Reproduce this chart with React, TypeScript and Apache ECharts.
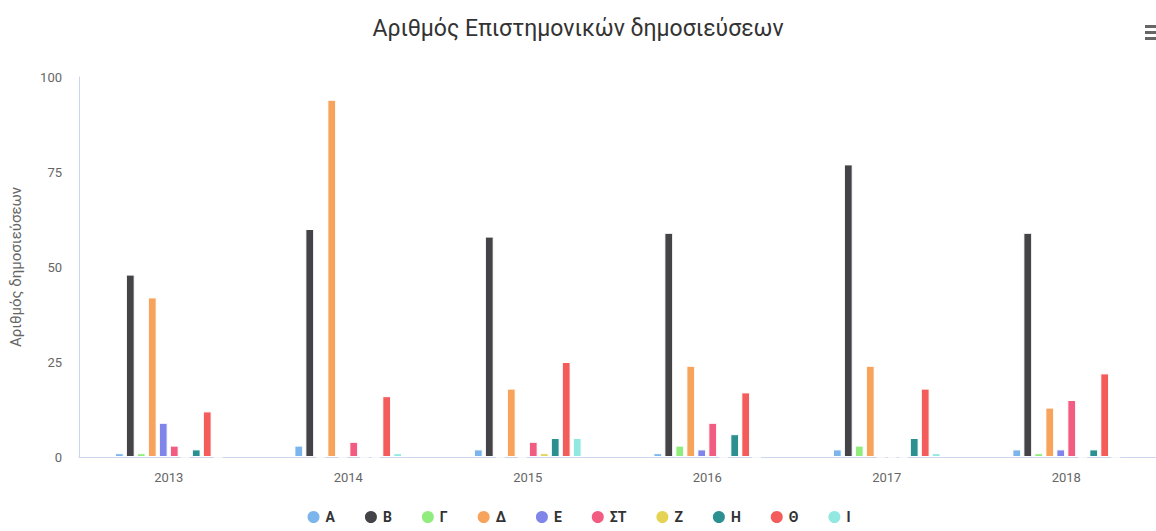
import React, { useEffect, useRef } from "react";
import * as echarts from "echarts";

const categories = ["2013", "2014", "2015", "2016", "2017", "2018"];
const seriesNames = ["Α", "Β", "Γ", "Δ", "Ε", "ΣΤ", "Ζ", "Η", "Θ", "Ι"];
const colors = ["#7cb5ec", "#434348", "#90ed7d", "#f7a35c", "#8085e9", "#f15c80", "#e4d354", "#2b908f", "#f45b5b", "#91e8e1"];

const sA = [1, 3, 2, 1, 2, 2];
const sB = [48, 60, 58, 59, 77, 59];
const sG = [1, 0, 0, 3, 3, 1];
const sD = [42, 94, 18, 24, 24, 13];
const sE = [9, 0, 0, 2, 0, 2];
const sST = [3, 4, 4, 9, 0, 15];
const sZ = [0, 0, 1, 0, 0, 0];
const sH = [2, 0, 5, 6, 5, 2];
const sTh = [12, 16, 25, 17, 18, 22];
const sI = [0, 1, 5, 0, 1, 0];
const seriesValues = [sA, sB, sG, sD, sE, sST, sZ, sH, sTh, sI];

const yTicks = { min: 0, max: 100, interval: 25 };

export default function App() {
  const ref = useRef<HTMLDivElement>(null);
  useEffect(() => {
    document.body.style.margin = "0";
    const chart = echarts.init(ref.current!, null, { renderer: "svg" });
    const font = "Roboto, 'Open Sans', sans-serif";
    chart.setOption({
      animation: false,
      color: colors,
      textStyle: { fontFamily: font },
      title: {
        text: "Αριθμός Επιστημονικών δημοσιεύσεων",
        left: "center",
        top: 12,
        textStyle: { fontFamily: font, fontSize: 23, fontWeight: "normal", color: "#333333" },
      },
      legend: {
        bottom: 1,
        left: "center",
        icon: "circle",
        itemWidth: 14,
        itemHeight: 14,
        itemGap: 28,
        textStyle: { fontFamily: font, fontSize: 14, fontWeight: "bold", color: "#333333" },
        data: seriesNames,
      },
      grid: { left: 78, right: 0, top: 77, bottom: 74, containLabel: false },
      xAxis: {
        type: "category",
        data: categories,
        axisLine: { show: true, lineStyle: { color: "#ccd6eb" } },
        axisTick: { show: false },
        axisLabel: { color: "#666666", fontSize: 13, margin: 14, fontFamily: font },
      },
      yAxis: {
        type: "value",
        min: yTicks.min,
        max: yTicks.max,
        interval: yTicks.interval,
        name: "Αριθμός δημοσιεύσεων",
        nameLocation: "middle",
        nameGap: 56,
        nameTextStyle: { color: "#666666", fontSize: 15, fontFamily: font },
        axisLine: { show: true, lineStyle: { color: "#ccd6eb" } },
        axisTick: { show: false },
        splitLine: { show: false },
        axisLabel: { color: "#666666", fontSize: 13, margin: 17, fontFamily: font },
      },
      series: seriesNames.map((name, i) => ({
        name,
        type: "bar",
        data: seriesValues[i],
        barCategoryGap: "40%",
        barGap: "25%",
        itemStyle: { borderColor: "#ffffff", borderWidth: 1 },
      })),
      graphic: [
        { type: "rect", right: 0, top: 25, shape: { width: 11, height: 3 }, style: { fill: "#666666" } },
        { type: "rect", right: 0, top: 31, shape: { width: 11, height: 3 }, style: { fill: "#666666" } },
        { type: "rect", right: 0, top: 37, shape: { width: 11, height: 3 }, style: { fill: "#666666" } },
      ],
    });
    return () => chart.dispose();
  }, []);
  return <div ref={ref} style={{ width: 1156, height: 531 }} />;
}
